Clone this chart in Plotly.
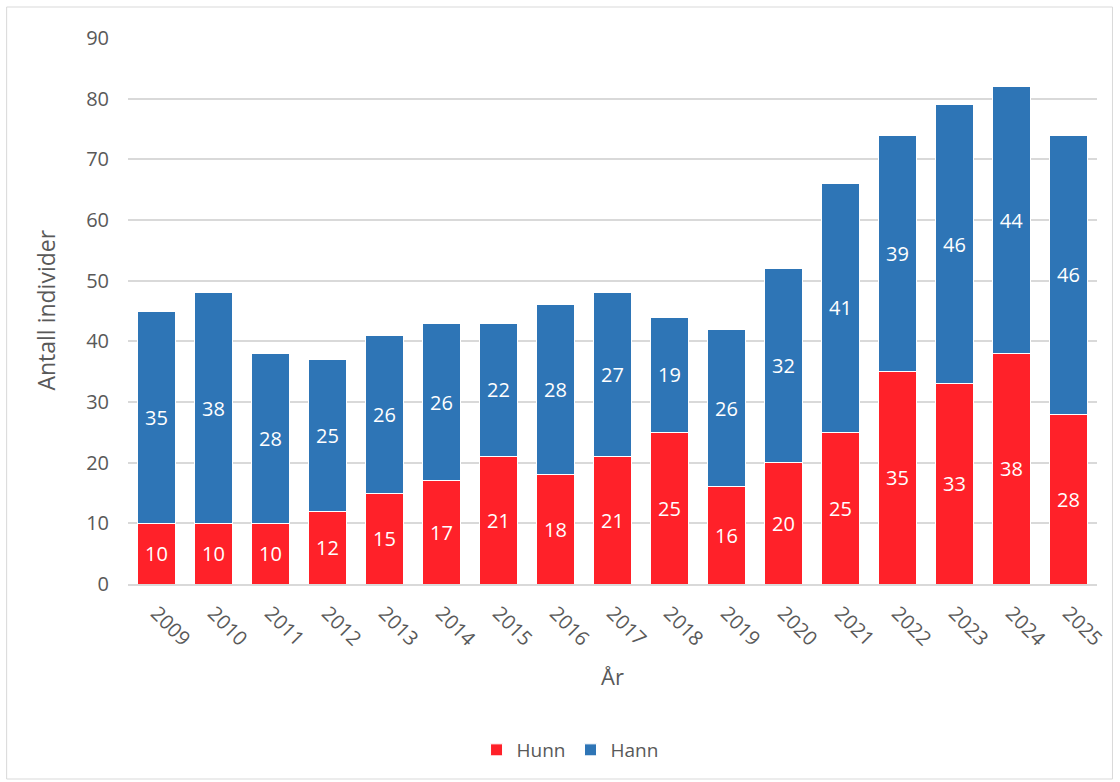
import plotly.graph_objects as go

years = ["2009", "2010", "2011", "2012", "2013", "2014", "2015", "2016", "2017",
         "2018", "2019", "2020", "2021", "2022", "2023", "2024", "2025"]
hunn = [10, 10, 10, 12, 15, 17, 21, 18, 21, 25, 16, 20, 25, 35, 33, 38, 28]
hann = [35, 38, 28, 25, 26, 26, 22, 28, 27, 19, 26, 32, 41, 39, 46, 44, 46]

FONT = "Open Sans"
GREY = "#595959"

L, R, T, B = 127.5, 22.5, 38, 198
W, H = 1120, 782
pw, ph = W - L - R, H - T - B

def px(x):
    return (x - L) / pw

def py(y):
    return (H - B - y) / ph

fig = go.Figure()
fig.add_trace(go.Bar(
    x=years, y=hunn, name="Hunn", marker=dict(color="#FF2129", line=dict(color="white", width=1)),
    text=hunn, textposition="inside", insidetextanchor="middle",
    textfont=dict(color="white", size=20, family=FONT), textangle=0,
))
fig.add_trace(go.Bar(
    x=years, y=hann, name="Hann", marker=dict(color="#2E75B6", line=dict(color="white", width=1)),
    text=hann, textposition="inside", insidetextanchor="middle",
    textfont=dict(color="white", size=20, family=FONT), textangle=0,
))

fig.update_layout(
    barmode="stack", bargap=0.33,
    width=W, height=H,
    margin=dict(l=L, r=R, t=T, b=B, autoexpand=False),
    paper_bgcolor="white", plot_bgcolor="white",
    font=dict(family=FONT, color=GREY, size=20),
    uniformtext=dict(minsize=20, mode="show"),
    showlegend=True,
    legend=dict(orientation="h", x=px(570), xanchor="center", y=py(750), yanchor="middle",
                font=dict(size=19, color=GREY, family=FONT), traceorder="normal",
                itemwidth=30),
    xaxis=dict(tickangle=45, tickfont=dict(size=20, color=GREY), showgrid=False,
               showline=True, linecolor="#D9D9D9", linewidth=1.5, ticks="",
               ticklabelstandoff=8),
    yaxis=dict(range=[0, 90], dtick=10, tickfont=dict(size=20, color=GREY),
               showgrid=True, gridcolor="#D9D9D9", gridwidth=1.5, zeroline=False,
               showline=False, ticks="", ticklabelstandoff=18),
    annotations=[
        dict(text="År", x=px(612), y=py(676), xref="paper", yref="paper", showarrow=False,
             font=dict(size=22, color=GREY, family=FONT), xanchor="center", yanchor="middle"),
        dict(text="Antall individer", x=px(45), y=py(310), xref="paper", yref="paper",
             showarrow=False, textangle=-90,
             font=dict(size=23, color=GREY, family=FONT), xanchor="center", yanchor="middle"),
    ],
    shapes=[
        dict(type="rect", xref="paper", yref="paper", x0=px(6), x1=px(1113), y0=py(779), y1=py(7),
             line=dict(color="#D9D9D9", width=1), fillcolor="rgba(0,0,0,0)", layer="below"),
    ],
)

fig.write_html("out.html", config={"displayModeBar": False},
               post_script="document.body.style.margin='0';document.body.style.padding='0';")
